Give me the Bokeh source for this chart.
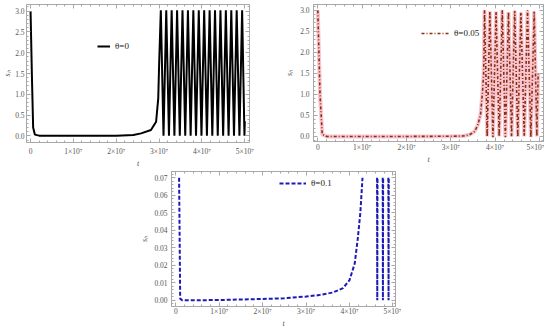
from bokeh.plotting import figure
from bokeh.models import Range1d, LinearAxis, FixedTicker, Legend, LegendItem, Spacer
from bokeh.layouts import column, row
from bokeh.embed import file_html
from bokeh.resources import INLINE

nan = float("nan")

# ---------------- data ----------------
x_ticks = [0, 1e7, 2e7, 3e7, 4e7, 5e7]
x_tick_labels = ["0", "1×10⁷", "2×10⁷", "3×10⁷", "4×10⁷", "5×10⁷"]
y_ticks_top = [0.0, 0.5, 1.0, 1.5, 2.0, 2.5, 3.0]
y_tick_labels_top = ["0.0", "0.5", "1.0", "1.5", "2.0", "2.5", "3.0"]
y_ticks_bot = [0.0, 0.01, 0.02, 0.03, 0.04, 0.05, 0.06, 0.07]
y_tick_labels_bot = ["0.00", "0.01", "0.02", "0.03", "0.04", "0.05", "0.06", "0.07"]

x_axis_title = "t"
y_axis_title = "sₕ"
legend_labels = ["θ=0", "θ=0.05", "θ=0.1"]

theta0_t = [0.0, 0.03e7, 0.06e7, 0.1e7, 0.2e7, 1.0e7, 2.0e7, 2.4e7, 2.58e7, 2.81e7, 2.93e7,
            2.98e7, 3.0e7, 3.04e7,
            3.103e7, 3.167e7, 3.230e7, 3.293e7, 3.357e7, 3.420e7, 3.483e7, 3.546e7,
            3.610e7, 3.673e7, 3.736e7, 3.799e7, 3.862e7, 3.926e7, 3.989e7, 4.052e7,
            4.116e7, 4.179e7, 4.242e7, 4.305e7, 4.369e7, 4.432e7, 4.495e7, 4.558e7,
            4.622e7, 4.685e7, 4.748e7, 4.811e7, 4.875e7, 4.938e7, 4.992e7, 5.0e7]
theta0_s = [3.0, 1.5, 0.2, 0.03, 0.005, 0.0, 0.002, 0.02, 0.06, 0.14, 0.34,
            0.9, 1.7, 3.02,
            0.0, 3.02, 0.0, 3.02, 0.0, 3.02, 0.0, 3.02,
            0.0, 3.02, 0.0, 3.02, 0.0, 3.02, 0.0, 3.02,
            0.0, 3.02, 0.0, 3.02, 0.0, 3.02, 0.0, 3.02,
            0.0, 3.02, 0.0, 3.02, 0.0, 3.02, 0.0, 0.35]

theta005_t = [0.0, 0.05e7, 0.1e7, 0.2e7, 1.0e7, 2.0e7, 3.0e7, 3.27e7, 3.42e7, 3.54e7,
              3.61e7, 3.67e7, 3.71e7, 3.74e7, 3.76e7, 3.82e7, 3.88e7, 3.95e7, 4.02e7,
              4.09e7, 4.16e7, 4.23e7, 4.30e7, 4.37e7, 4.44e7, 4.51e7, 4.58e7, 4.655e7,
              4.73e7, 4.805e7, 4.88e7, 4.94e7, 4.97e7]
theta005_s = [3.0, 1.0, 0.05, 0.0, 0.0, 0.0, 0.005, 0.01, 0.04, 0.12,
              0.28, 0.52, 1.0, 1.48, 3.0, 0.0, 2.98, -0.02, 2.97,
              0.0, 3.0, -0.02, 2.96, 0.0, 2.99, -0.01, 2.95, 0.0,
              3.0, -0.02, 2.97, 0.0, 1.5]

theta01_t = [0.075e7, 0.1e7, 0.15e7, 1.0e7, 2.0e7, 2.5e7, 3.0e7, 3.3e7, 3.62e7, 3.85e7,
             4.0e7, 4.12e7, 4.19e7, 4.25e7, 4.3e7, nan,
             4.635e7, 4.64e7, 4.645e7, nan,
             4.765e7, 4.77e7, 4.775e7, nan,
             4.895e7, 4.9e7, 4.905e7]
theta01_s = [0.07, 0.001, 0.0, 0.0002, 0.0008, 0.0012, 0.0022, 0.003, 0.0045, 0.007,
             0.0115, 0.021, 0.035, 0.05, 0.07, nan,
             0.07, 0.0, 0.07, nan,
             0.07, 0.0, 0.07, nan,
             0.07, 0.0, 0.07]

# ---------------- styling helpers ----------------
FRAME = "#a8a8a8"
TICKTXT = "#555555"
SERIF = "Liberation Serif"


def minor_from(ticks):
    step = ticks[1] - ticks[0]
    out = []
    for i in range(-1, len(ticks)):
        base = ticks[0] + i * step
        for k in range(1, 5):
            out.append(base + k * step / 5)
    return out


def style_axis(ax, ticks, labels, show_labels=True, standoff=3, title=None, title_standoff=1):
    ax.ticker = FixedTicker(ticks=ticks, minor_ticks=minor_from(ticks))
    ax.axis_line_color = FRAME
    ax.major_tick_line_color = FRAME
    ax.minor_tick_line_color = FRAME
    ax.major_tick_in = 4
    ax.major_tick_out = 0
    ax.minor_tick_in = 2
    ax.minor_tick_out = 0
    if show_labels:
        ax.major_label_overrides = {t: l for t, l in zip(ticks, labels)}
        ax.major_label_text_font = SERIF
        ax.major_label_text_color = TICKTXT
        ax.major_label_text_font_size = "7.5px"
        ax.major_label_text_line_height = 1.0
        ax.major_label_standoff = standoff
    else:
        ax.major_label_text_font_size = "0px"
        ax.major_label_standoff = 0
        ax.major_label_text_alpha = 0
    if title is not None:
        ax.axis_label = title
        ax.axis_label_text_font = SERIF
        ax.axis_label_text_font_style = "italic"
        ax.axis_label_text_font_size = "8px"
        ax.axis_label_text_line_height = 1.0
        ax.axis_label_text_color = TICKTXT
        ax.axis_label_standoff = title_standoff


def make_fig(fw, fh, xr, yr, borders, yticks, ylabels, xso, xtso, yso, ytso):
    bl, br, bt, bb = borders
    p = figure(frame_width=fw, frame_height=fh, x_range=Range1d(*xr), y_range=Range1d(*yr),
               output_backend="svg", toolbar_location=None,
               min_border_left=bl, min_border_right=br, min_border_top=bt, min_border_bottom=bb)
    p.outline_line_color = FRAME
    p.xgrid.visible = False
    p.ygrid.visible = False
    p.add_layout(LinearAxis(), "above")
    p.add_layout(LinearAxis(), "right")
    style_axis(p.below[0], x_ticks, x_tick_labels, True, xso, x_axis_title, xtso)
    style_axis(p.left[0], yticks, ylabels, True, yso, y_axis_title, ytso)
    style_axis(p.above[0], x_ticks, x_tick_labels, False)
    style_axis(p.right[0], yticks, ylabels, False)
    return p


def add_legend(p, renderers, label, loc, gw):
    lg = Legend(items=[LegendItem(label=label, renderers=renderers)], location=loc,
                glyph_width=gw, glyph_height=10, label_height=10,
                label_text_font=SERIF, label_text_font_size="9px", label_text_color="#222222",
                label_standoff=5, border_line_color=None, background_fill_alpha=0,
                padding=0, margin=0, spacing=0)
    p.add_layout(lg)


# ---------------- panel 1 ----------------
p1 = make_fig(223, 138, (-0.95e6, 5.11e7), (-0.16, 3.16), (26, 32, 4, 28),
              y_ticks_top, y_tick_labels_top, 4, 0, 2, 0)
r1 = p1.line(theta0_t, theta0_s, line_color="black", line_width=2)
add_legend(p1, [r1], legend_labels[0], (71, 91), 13)

# ---------------- panel 2 ----------------
p2 = make_fig(230, 137, (-0.97e6, 5.09e7), (-0.12, 3.14), (32, 1, 4, 25),
              y_ticks_top, y_tick_labels_top, 1, 0, 4, 3)
p2.line(theta005_t, theta005_s, line_color="#f8c6d0", line_width=4)
r2 = p2.line(theta005_t, theta005_s, line_color="#8b2d0f", line_width=1.6, line_dash="3 2 1 2")
add_legend(p2, [r2], legend_labels[1], (108, 103), 28)

# ---------------- panel 3 ----------------
p3 = make_fig(224, 135, (-1.0e6, 5.06e7), (-0.0035, 0.0736), (34, 6, 1, 24),
              y_ticks_bot, y_tick_labels_bot, 0, 0, 4, 2)
r3 = p3.line(theta01_t, theta01_s, line_color="#1c1cb4", line_width=2, line_dash="4 2")
add_legend(p3, [r3], legend_labels[2], (108, 118), 27)

layout = column(row(p1, p2), row(Spacer(width=137, height=160), p3))

open("out.html", "w").write(file_html(layout, INLINE))
